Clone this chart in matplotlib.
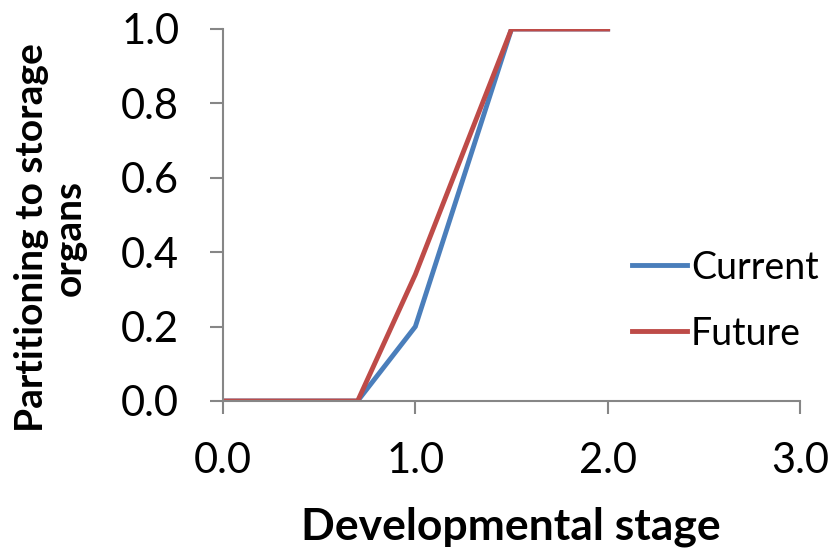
import matplotlib.pyplot as plt

# developmental stage vs partitioning to storage organs
stage = [0.0, 0.7, 1.0, 1.5, 2.0]
current = [0.0, 0.0, 0.2, 1.0, 1.0]
future = [0.0, 0.0, 0.34, 1.0, 1.0]

xticks = [0.0, 1.0, 2.0, 3.0]
yticks = [0.0, 0.2, 0.4, 0.6, 0.8, 1.0]

plt.rcParams["font.family"] = ["Lato", "DejaVu Sans"]

def main():
    W, H = 833, 549
    fig = plt.figure(figsize=(W / 100, H / 100), dpi=100)
    ax = fig.add_axes([223 / W, 1 - 401 / H, 577 / W, 372 / H])

    ax.plot(stage, current, color="#4a7ebb", lw=3.5, label="Current", solid_joinstyle="miter")
    ax.plot(stage, future, color="#be4b48", lw=3.5, label="Future", solid_joinstyle="miter")

    ax.set_xlim(0, 3)
    ax.set_ylim(0, 1)
    ax.set_xticks(xticks)
    ax.set_xticklabels(["%.1f" % v for v in xticks])
    ax.set_yticks(yticks)
    ax.set_yticklabels(["%.1f" % v for v in yticks])

    gray = "#868686"
    for s in ["top", "right"]:
        ax.spines[s].set_visible(False)
    for s in ["left", "bottom"]:
        ax.spines[s].set_color(gray)
        ax.spines[s].set_linewidth(1.5)
    ax.tick_params(axis="both", colors=gray, length=9.5, width=1.5, labelsize=30,
                   labelcolor="black")
    ax.tick_params(axis="x", pad=20)
    ax.tick_params(axis="y", pad=22)

    fig.text(511 / W, 1 - 527 / H, "Developmental stage", fontsize=32, fontweight="bold",
             ha="center", va="center")
    fig.text(50 / W, 1 - 238 / H, "Partitioning to storage\norgans", fontsize=28,
             fontweight="bold", rotation=90, ha="center", va="center",
             multialignment="center", linespacing=1.1)

    ax.legend(loc="center left", bbox_to_anchor=(0.709, 0.27), frameon=False, fontsize=27,
              handlelength=1.47, handletextpad=0.1, labelspacing=0.8,
              borderpad=0, borderaxespad=0)

    fig.savefig("out.png", dpi=100)

if __name__ == "__main__":
    main()
